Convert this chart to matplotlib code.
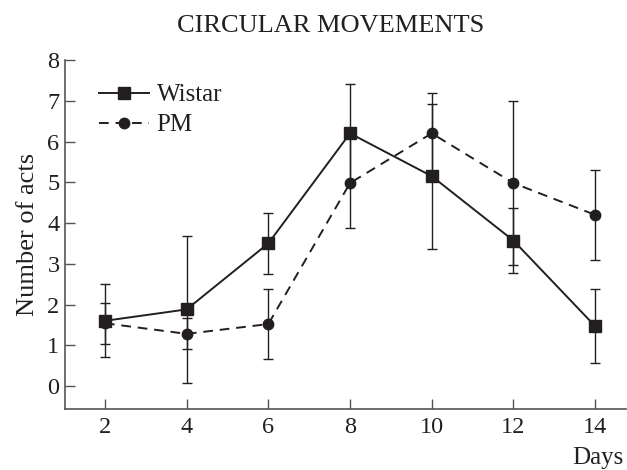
import matplotlib
matplotlib.use("Agg")
import matplotlib.pyplot as plt

days = [2, 4, 6, 8, 10, 12, 14]
wistar = [1.6, 1.88, 3.5, 6.2, 5.15, 3.57, 1.47]
wistar_err = [0.9, 1.8, 0.75, 1.2, 1.78, 0.8, 0.9]
pm = [1.54, 1.28, 1.52, 4.98, 6.2, 4.98, 4.2]
pm_err = [0.5, 0.38, 0.85, 1.1, 1.0, 2.02, 1.1]
yticks = [0, 1, 2, 3, 4, 5, 6, 7, 8]

col = "#231f20"
plt.rcParams['font.family'] = ['Liberation Serif', 'DejaVu Serif']

fig = plt.figure(figsize=(6.27, 4.70), dpi=100)
ax = fig.add_axes([65/627, 61/470, 561/627, 349/470])

ax.errorbar(days, wistar, yerr=wistar_err, color=col, lw=1.4, ls='-',
            marker='s', ms=8.5, elinewidth=1.0, capsize=3.3, capthick=1.0,
            label='Wistar', zorder=3)
ax.errorbar(days, pm, yerr=pm_err, color=col, lw=1.4, ls=(0, (5, 3.5)),
            marker='o', ms=7.5, elinewidth=1.0, capsize=3.3, capthick=1.0,
            label='PM', zorder=3)

ax.set_xlim(1.022, 14.757)
ax.set_ylim(-0.564, 8.0)
ax.set_xticks(days)
ax.set_yticks(yticks)
for s in ['top', 'right']:
    ax.spines[s].set_visible(False)
for s in ['left', 'bottom']:
    ax.spines[s].set_color('#555555')
    ax.spines[s].set_linewidth(1.2)
ax.tick_params(direction='in', length=7, width=1.0, color='#555555',
               labelsize=17.5, labelcolor=col)
ax.tick_params(axis='y', pad=4)
ax.tick_params(axis='x', pad=6)

ax.set_ylabel('Number of acts', fontsize=19, color=col, labelpad=6)
fig.text(331/627, 1 - 26/470, 'CIRCULAR MOVEMENTS', ha='center', va='center',
         fontsize=19, color=col)
fig.text(598/627, 1 - 458/470, 'Days', ha='center', va='center',
         fontsize=18, color=col)

h, l = ax.get_legend_handles_labels()
leg = ax.legend([hh[0] for hh in h], l, loc='upper left', frameon=False,
                fontsize=18, handlelength=2.0, handletextpad=0.3,
                labelspacing=0.3, bbox_to_anchor=(0.043, 0.96),
                borderaxespad=0.0, labelcolor=col)

fig.savefig('out.png', dpi=100)
